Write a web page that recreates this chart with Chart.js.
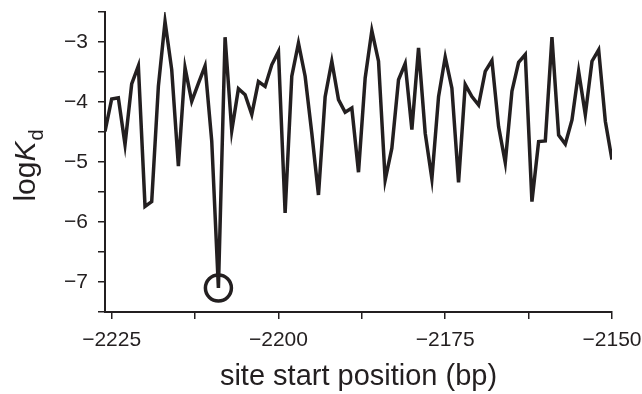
<!DOCTYPE html>
<html>
<head>
<meta charset="utf-8">
<script src="https://cdn.jsdelivr.net/npm/chart.js@4.4.1/dist/chart.umd.min.js"></script>
<style>
  html, body { margin: 0; padding: 0; background: #fff; }
</style>
</head>
<body>
<canvas id="kd-line" width="642" height="394"></canvas>
<script>
// site start positions (bp), one per integer position
const firstPosition = -2226;
const logKd = [
  -4.49, -3.95, -3.93, -4.71, -3.70, -3.40, -5.74, -5.66, -3.74, -2.66,
  -3.46, -5.07, -3.43, -3.99, -3.69, -3.40, -4.65, -7.10, -2.92, -4.48,
  -3.78, -3.88, -4.21, -3.66, -3.74, -3.38, -3.16, -5.85, -3.57, -3.02,
  -3.57, -4.52, -5.55, -3.91, -3.32, -3.96, -4.17, -4.10, -5.17, -3.60,
  -2.81, -3.32, -5.30, -4.77, -3.63, -3.36, -4.46, -3.10, -4.52, -5.28,
  -3.91, -3.25, -3.77, -5.34, -3.71, -3.91, -4.05, -3.49, -3.31, -4.41,
  -5.01, -3.82, -3.34, -3.21, -5.66, -4.66, -4.65, -2.92, -4.55, -4.70,
  -4.30, -3.49, -4.21, -3.32, -3.13, -4.32, -4.96
];
const positions = logKd.map((v, i) => firstPosition + i);

const xTicks = [-2225, -2212.5, -2200, -2187.5, -2175, -2162.5, -2150];
const yTicks = [-7.5, -7, -6.5, -6, -5.5, -5, -4.5, -4, -3.5, -3, -2.5];

const ink = '#231f20';
const fontFamily = '"Liberation Sans", Arial, Helvetica, sans-serif';

// strongest site gets the circle
const minIndex = logKd.indexOf(Math.min(...logKd));

const minus = v => (v < 0 ? '\u2212' : '') + Math.abs(v);

// y title: log K(italic) with subscript d
const yTitle = {
  id: 'yTitle',
  afterDraw(chart) {
    const { ctx, chartArea } = chart;
    const cy = (chartArea.top + chartArea.bottom) / 2 + 4;
    const base = '30px ' + fontFamily;
    const ital = 'italic 30px ' + fontFamily;
    const sub = '20px ' + fontFamily;
    ctx.save();
    ctx.translate(35, cy);
    ctx.rotate(-Math.PI / 2);
    ctx.fillStyle = ink;
    ctx.textBaseline = 'alphabetic';
    ctx.font = base;  const w1 = ctx.measureText('log').width;
    ctx.font = ital;  const w2 = ctx.measureText('K').width;
    ctx.font = sub;   const w3 = ctx.measureText('d').width;
    let x = -(w1 + w2 + w3) / 2;
    ctx.font = base; ctx.fillText('log', x, 0); x += w1;
    ctx.font = ital; ctx.fillText('K', x, 0); x += w2;
    ctx.font = sub;  ctx.fillText('d', x + 1, 8);
    ctx.restore();
  }
};

const ctx = document.getElementById('kd-line').getContext('2d');
new Chart(ctx, {
  type: 'line',
  data: {
    datasets: [{
      data: positions.map((p, i) => ({ x: p, y: logKd[i] })),
      borderColor: ink,
      borderWidth: 3.5,
      borderJoinStyle: 'miter',
      tension: 0,
      fill: false,
      pointRadius: c => c.dataIndex === minIndex ? 13 : 0,
      pointHoverRadius: c => c.dataIndex === minIndex ? 13 : 0,
      pointBorderWidth: 3.5,
      pointBorderColor: ink,
      pointBackgroundColor: 'rgba(0,0,0,0)'
    }]
  },
  options: {
    responsive: false,
    animation: false,
    layout: { padding: { left: 43, top: 12, right: 30, bottom: 0 } },
    plugins: { legend: { display: false }, tooltip: { enabled: false } },
    scales: {
      x: {
        type: 'linear',
        min: -2226,
        max: -2150,
        afterBuildTicks: s => { s.ticks = xTicks.map(v => ({ value: v })); },
        afterFit: s => { s.height = 82; s.paddingLeft = 0; s.paddingRight = 0; },
        border: { display: true, color: ink, width: 2 },
        grid: { drawOnChartArea: false, drawTicks: true, tickLength: 7, color: ink, lineWidth: 1.5 },
        ticks: {
          autoSkip: false,
          maxRotation: 0,
          padding: 9,
          color: ink,
          font: { family: fontFamily, size: 21 },
          callback: v => (v % 25 === 0 ? minus(v) : '')
        },
        title: {
          display: true,
          text: 'site start position (bp)',
          color: ink,
          font: { family: fontFamily, size: 29 },
          padding: { top: 8, bottom: 0 }
        }
      },
      y: {
        min: -7.5,
        max: -2.5,
        afterBuildTicks: s => { s.ticks = yTicks.map(v => ({ value: v })); },
        afterFit: s => { s.width = 62; s.paddingTop = 0; s.paddingBottom = 0; },
        border: { display: true, color: ink, width: 2 },
        grid: { drawOnChartArea: false, drawTicks: true, tickLength: 7, color: ink, lineWidth: 1.5 },
        ticks: {
          autoSkip: false,
          padding: 10,
          color: ink,
          font: { family: fontFamily, size: 21 },
          callback: v => (Number.isInteger(v) ? minus(v) : '')
        }
      }
    }
  },
  plugins: [yTitle]
});
</script>
</body>
</html>
